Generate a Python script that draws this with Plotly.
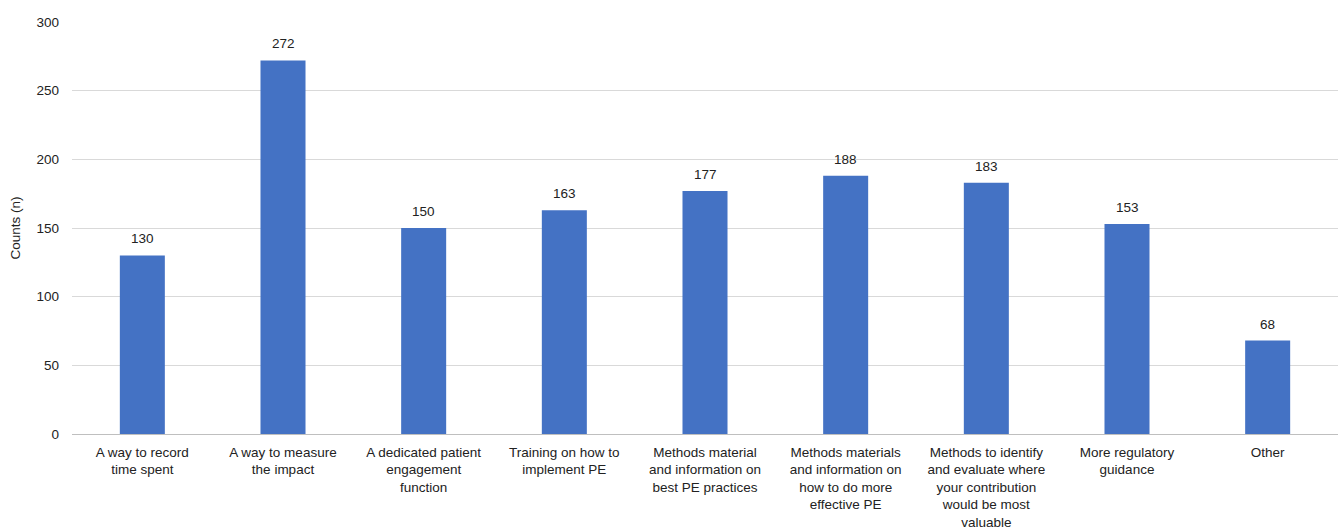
import plotly.graph_objects as go

categories = [
    "A way to record<br>time spent",
    "A way to measure<br>the impact",
    "A dedicated patient<br>engagement<br>function",
    "Training on how to<br>implement PE",
    "Methods material<br>and information on<br>best PE practices",
    "Methods materials<br>and information on<br>how to do more<br>effective PE",
    "Methods to identify<br>and evaluate where<br>your contribution<br>would be most<br>valuable",
    "More regulatory<br>guidance",
    "Other",
]
counts = [130, 272, 150, 163, 177, 188, 183, 153, 68]

font_family = "Liberation Sans, Arial, sans-serif"
txt_color = "#222222"

fig = go.Figure(
    go.Bar(
        x=categories,
        y=counts,
        marker=dict(color="#4472C4", line=dict(width=0)),
        hoverinfo="x+y",
    )
)

for c, v in zip(categories, counts):
    fig.add_annotation(
        x=c, y=v, text=str(v), showarrow=False,
        yanchor="bottom", yshift=7,
        font=dict(family=font_family, size=13.5, color=txt_color),
    )

fig.update_layout(
    width=1342,
    height=530,
    margin=dict(l=72, r=4, t=22, b=96, autoexpand=False),
    paper_bgcolor="white",
    plot_bgcolor="white",
    bargap=0.68,
    showlegend=False,
    font=dict(family=font_family, size=13, color=txt_color),
    xaxis=dict(
        automargin=False,
        tickfont=dict(family=font_family, size=13.5, color=txt_color),
        showgrid=False,
        ticks="",
        showline=False,
        tickangle=0,
        ticklabelstandoff=8,
    ),
    yaxis=dict(
        automargin=False,
        range=[0, 300],
        tickvals=[0, 50, 100, 150, 200, 250, 300],
        showgrid=True,
        gridcolor="#d9d9d9",
        gridwidth=1,
        zeroline=True,
        zerolinecolor="#bfbfbf",
        zerolinewidth=1,
        tickfont=dict(family=font_family, size=13.5, color=txt_color),
        ticklabelstandoff=12,
        title=dict(text="Counts (n)", font=dict(family=font_family, size=13.5, color=txt_color), standoff=12),
    ),
)

fig.write_html("out.html")
